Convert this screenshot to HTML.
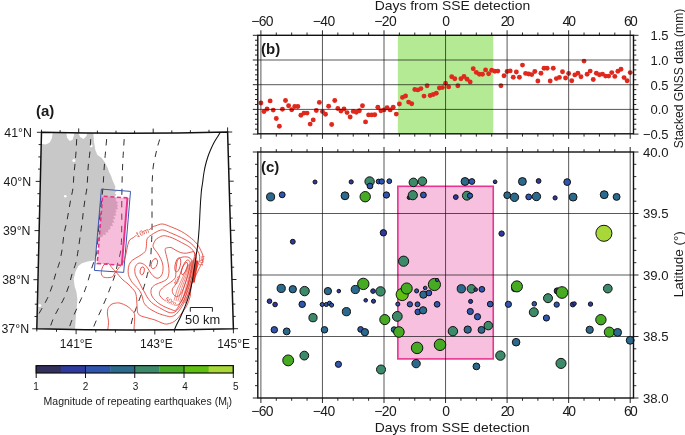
<!DOCTYPE html><html><head><meta charset="utf-8"><style>html,body{margin:0;padding:0;background:#fff;width:685px;height:435px;overflow:hidden}svg{display:block}text{font-family:"Liberation Sans", sans-serif;fill:#1a1a1a}</style></head><body>
<svg width="685" height="435" viewBox="0 0 685 435">
<rect width="685" height="435" fill="#fff"/>
<g opacity="0.999">
<rect x="397.85" y="35.3" width="95.40" height="98.50000000000001" fill="#b5ea95"/>
<circle cx="260.90" cy="103.00" r="2.45" fill="#e0281d"/>
<circle cx="263.98" cy="111.60" r="2.45" fill="#e0281d"/>
<circle cx="267.06" cy="109.00" r="2.45" fill="#e0281d"/>
<circle cx="270.13" cy="100.90" r="2.45" fill="#e0281d"/>
<circle cx="273.21" cy="110.10" r="2.45" fill="#e0281d"/>
<circle cx="276.29" cy="118.50" r="2.45" fill="#e0281d"/>
<circle cx="279.37" cy="126.20" r="2.45" fill="#e0281d"/>
<circle cx="282.44" cy="109.30" r="2.45" fill="#e0281d"/>
<circle cx="285.52" cy="100.50" r="2.45" fill="#e0281d"/>
<circle cx="288.60" cy="105.70" r="2.45" fill="#e0281d"/>
<circle cx="291.68" cy="109.70" r="2.45" fill="#e0281d"/>
<circle cx="294.75" cy="106.50" r="2.45" fill="#e0281d"/>
<circle cx="297.83" cy="106.50" r="2.45" fill="#e0281d"/>
<circle cx="300.91" cy="115.30" r="2.45" fill="#e0281d"/>
<circle cx="303.99" cy="113.10" r="2.45" fill="#e0281d"/>
<circle cx="307.06" cy="113.10" r="2.45" fill="#e0281d"/>
<circle cx="310.14" cy="124.10" r="2.45" fill="#e0281d"/>
<circle cx="313.22" cy="119.90" r="2.45" fill="#e0281d"/>
<circle cx="316.30" cy="110.50" r="2.45" fill="#e0281d"/>
<circle cx="319.37" cy="102.40" r="2.45" fill="#e0281d"/>
<circle cx="322.45" cy="111.60" r="2.45" fill="#e0281d"/>
<circle cx="325.53" cy="114.30" r="2.45" fill="#e0281d"/>
<circle cx="328.61" cy="106.20" r="2.45" fill="#e0281d"/>
<circle cx="331.68" cy="124.50" r="2.45" fill="#e0281d"/>
<circle cx="334.76" cy="100.50" r="2.45" fill="#e0281d"/>
<circle cx="337.84" cy="108.50" r="2.45" fill="#e0281d"/>
<circle cx="340.92" cy="111.10" r="2.45" fill="#e0281d"/>
<circle cx="343.99" cy="109.00" r="2.45" fill="#e0281d"/>
<circle cx="347.07" cy="112.60" r="2.45" fill="#e0281d"/>
<circle cx="350.15" cy="117.00" r="2.45" fill="#e0281d"/>
<circle cx="353.23" cy="111.40" r="2.45" fill="#e0281d"/>
<circle cx="356.30" cy="112.20" r="2.45" fill="#e0281d"/>
<circle cx="359.38" cy="110.70" r="2.45" fill="#e0281d"/>
<circle cx="362.46" cy="105.80" r="2.45" fill="#e0281d"/>
<circle cx="365.54" cy="121.90" r="2.45" fill="#e0281d"/>
<circle cx="368.61" cy="114.90" r="2.45" fill="#e0281d"/>
<circle cx="371.69" cy="114.90" r="2.45" fill="#e0281d"/>
<circle cx="374.77" cy="114.70" r="2.45" fill="#e0281d"/>
<circle cx="377.85" cy="107.20" r="2.45" fill="#e0281d"/>
<circle cx="380.92" cy="110.70" r="2.45" fill="#e0281d"/>
<circle cx="384.00" cy="109.90" r="2.45" fill="#e0281d"/>
<circle cx="387.08" cy="107.80" r="2.45" fill="#e0281d"/>
<circle cx="390.16" cy="109.90" r="2.45" fill="#e0281d"/>
<circle cx="393.23" cy="107.20" r="2.45" fill="#e0281d"/>
<circle cx="396.31" cy="114.10" r="2.45" fill="#e0281d"/>
<circle cx="399.39" cy="104.00" r="2.45" fill="#e0281d"/>
<circle cx="402.47" cy="97.40" r="2.45" fill="#e0281d"/>
<circle cx="405.54" cy="96.00" r="2.45" fill="#e0281d"/>
<circle cx="408.62" cy="102.10" r="2.45" fill="#e0281d"/>
<circle cx="411.70" cy="103.70" r="2.45" fill="#e0281d"/>
<circle cx="414.78" cy="89.50" r="2.45" fill="#e0281d"/>
<circle cx="417.85" cy="89.90" r="2.45" fill="#e0281d"/>
<circle cx="420.93" cy="88.60" r="2.45" fill="#e0281d"/>
<circle cx="424.01" cy="96.10" r="2.45" fill="#e0281d"/>
<circle cx="427.09" cy="85.70" r="2.45" fill="#e0281d"/>
<circle cx="430.16" cy="95.50" r="2.45" fill="#e0281d"/>
<circle cx="433.24" cy="94.50" r="2.45" fill="#e0281d"/>
<circle cx="436.32" cy="93.30" r="2.45" fill="#e0281d"/>
<circle cx="439.40" cy="88.00" r="2.45" fill="#e0281d"/>
<circle cx="442.47" cy="87.60" r="2.45" fill="#e0281d"/>
<circle cx="445.55" cy="83.20" r="2.45" fill="#e0281d"/>
<circle cx="448.63" cy="86.90" r="2.45" fill="#e0281d"/>
<circle cx="451.70" cy="76.80" r="2.45" fill="#e0281d"/>
<circle cx="454.78" cy="78.70" r="2.45" fill="#e0281d"/>
<circle cx="457.86" cy="85.70" r="2.45" fill="#e0281d"/>
<circle cx="460.94" cy="78.80" r="2.45" fill="#e0281d"/>
<circle cx="464.01" cy="76.50" r="2.45" fill="#e0281d"/>
<circle cx="467.09" cy="79.30" r="2.45" fill="#e0281d"/>
<circle cx="470.17" cy="81.90" r="2.45" fill="#e0281d"/>
<circle cx="473.25" cy="68.80" r="2.45" fill="#e0281d"/>
<circle cx="476.32" cy="72.40" r="2.45" fill="#e0281d"/>
<circle cx="479.40" cy="74.20" r="2.45" fill="#e0281d"/>
<circle cx="482.48" cy="74.20" r="2.45" fill="#e0281d"/>
<circle cx="485.56" cy="69.90" r="2.45" fill="#e0281d"/>
<circle cx="488.63" cy="73.80" r="2.45" fill="#e0281d"/>
<circle cx="491.71" cy="70.20" r="2.45" fill="#e0281d"/>
<circle cx="494.79" cy="71.20" r="2.45" fill="#e0281d"/>
<circle cx="497.87" cy="71.10" r="2.45" fill="#e0281d"/>
<circle cx="500.94" cy="85.80" r="2.45" fill="#e0281d"/>
<circle cx="504.02" cy="75.70" r="2.45" fill="#e0281d"/>
<circle cx="507.10" cy="71.50" r="2.45" fill="#e0281d"/>
<circle cx="510.18" cy="70.90" r="2.45" fill="#e0281d"/>
<circle cx="513.25" cy="77.20" r="2.45" fill="#e0281d"/>
<circle cx="516.33" cy="72.00" r="2.45" fill="#e0281d"/>
<circle cx="519.41" cy="77.20" r="2.45" fill="#e0281d"/>
<circle cx="522.49" cy="65.10" r="2.45" fill="#e0281d"/>
<circle cx="525.57" cy="73.40" r="2.45" fill="#e0281d"/>
<circle cx="528.64" cy="74.00" r="2.45" fill="#e0281d"/>
<circle cx="531.72" cy="74.60" r="2.45" fill="#e0281d"/>
<circle cx="534.80" cy="71.50" r="2.45" fill="#e0281d"/>
<circle cx="537.88" cy="81.00" r="2.45" fill="#e0281d"/>
<circle cx="540.95" cy="73.20" r="2.45" fill="#e0281d"/>
<circle cx="544.03" cy="68.20" r="2.45" fill="#e0281d"/>
<circle cx="547.11" cy="68.20" r="2.45" fill="#e0281d"/>
<circle cx="550.19" cy="81.00" r="2.45" fill="#e0281d"/>
<circle cx="553.26" cy="68.20" r="2.45" fill="#e0281d"/>
<circle cx="556.34" cy="78.60" r="2.45" fill="#e0281d"/>
<circle cx="559.42" cy="77.40" r="2.45" fill="#e0281d"/>
<circle cx="562.50" cy="71.80" r="2.45" fill="#e0281d"/>
<circle cx="565.57" cy="78.00" r="2.45" fill="#e0281d"/>
<circle cx="568.65" cy="73.50" r="2.45" fill="#e0281d"/>
<circle cx="571.73" cy="80.70" r="2.45" fill="#e0281d"/>
<circle cx="574.81" cy="74.90" r="2.45" fill="#e0281d"/>
<circle cx="577.88" cy="73.30" r="2.45" fill="#e0281d"/>
<circle cx="580.96" cy="76.70" r="2.45" fill="#e0281d"/>
<circle cx="584.04" cy="61.10" r="2.45" fill="#e0281d"/>
<circle cx="587.12" cy="74.30" r="2.45" fill="#e0281d"/>
<circle cx="590.19" cy="71.10" r="2.45" fill="#e0281d"/>
<circle cx="593.27" cy="79.50" r="2.45" fill="#e0281d"/>
<circle cx="596.35" cy="73.20" r="2.45" fill="#e0281d"/>
<circle cx="599.42" cy="74.70" r="2.45" fill="#e0281d"/>
<circle cx="602.50" cy="74.10" r="2.45" fill="#e0281d"/>
<circle cx="605.58" cy="76.10" r="2.45" fill="#e0281d"/>
<circle cx="608.66" cy="76.10" r="2.45" fill="#e0281d"/>
<circle cx="611.74" cy="72.60" r="2.45" fill="#e0281d"/>
<circle cx="614.81" cy="76.40" r="2.45" fill="#e0281d"/>
<circle cx="617.89" cy="71.20" r="2.45" fill="#e0281d"/>
<circle cx="620.97" cy="69.20" r="2.45" fill="#e0281d"/>
<circle cx="624.05" cy="77.60" r="2.45" fill="#e0281d"/>
<circle cx="627.12" cy="80.70" r="2.45" fill="#e0281d"/>
<circle cx="630.20" cy="72.60" r="2.45" fill="#e0281d"/>
<path d="M260.90 35.3V133.8M322.45 35.3V133.8M384.00 35.3V133.8M445.55 35.3V133.8M507.10 35.3V133.8M568.65 35.3V133.8M630.20 35.3V133.8M257.8 60.00H633.5M257.8 84.70H633.5M257.8 109.40H633.5" stroke="#111" stroke-width="0.7" fill="none"/>
<path d="M260.90 35.3v-5M260.90 133.8v5M276.29 35.3v-2.8M276.29 133.8v2.8M291.68 35.3v-2.8M291.68 133.8v2.8M307.06 35.3v-2.8M307.06 133.8v2.8M322.45 35.3v-5M322.45 133.8v5M337.84 35.3v-2.8M337.84 133.8v2.8M353.23 35.3v-2.8M353.23 133.8v2.8M368.61 35.3v-2.8M368.61 133.8v2.8M384.00 35.3v-5M384.00 133.8v5M399.39 35.3v-2.8M399.39 133.8v2.8M414.78 35.3v-2.8M414.78 133.8v2.8M430.16 35.3v-2.8M430.16 133.8v2.8M445.55 35.3v-5M445.55 133.8v5M460.94 35.3v-2.8M460.94 133.8v2.8M476.32 35.3v-2.8M476.32 133.8v2.8M491.71 35.3v-2.8M491.71 133.8v2.8M507.10 35.3v-5M507.10 133.8v5M522.49 35.3v-2.8M522.49 133.8v2.8M537.88 35.3v-2.8M537.88 133.8v2.8M553.26 35.3v-2.8M553.26 133.8v2.8M568.65 35.3v-5M568.65 133.8v5M584.04 35.3v-2.8M584.04 133.8v2.8M599.42 35.3v-2.8M599.42 133.8v2.8M614.81 35.3v-2.8M614.81 133.8v2.8M630.20 35.3v-5M630.20 133.8v5M257.8 134.10h-5M633.5 134.10h5M257.8 129.16h-2.8M633.5 129.16h2.8M257.8 124.22h-2.8M633.5 124.22h2.8M257.8 119.28h-2.8M633.5 119.28h2.8M257.8 114.34h-2.8M633.5 114.34h2.8M257.8 109.40h-5M633.5 109.40h5M257.8 104.46h-2.8M633.5 104.46h2.8M257.8 99.52h-2.8M633.5 99.52h2.8M257.8 94.58h-2.8M633.5 94.58h2.8M257.8 89.64h-2.8M633.5 89.64h2.8M257.8 84.70h-5M633.5 84.70h5M257.8 79.76h-2.8M633.5 79.76h2.8M257.8 74.82h-2.8M633.5 74.82h2.8M257.8 69.88h-2.8M633.5 69.88h2.8M257.8 64.94h-2.8M633.5 64.94h2.8M257.8 60.00h-5M633.5 60.00h5M257.8 55.06h-2.8M633.5 55.06h2.8M257.8 50.12h-2.8M633.5 50.12h2.8M257.8 45.18h-2.8M633.5 45.18h2.8M257.8 40.24h-2.8M633.5 40.24h2.8M257.8 35.30h-5M633.5 35.30h5" stroke="#111" stroke-width="0.9" fill="none"/>
<rect x="257.8" y="35.3" width="375.70" height="98.50" fill="none" stroke="#111" stroke-width="1.4"/>
<rect x="397.85" y="186.3" width="95.40" height="172.60" fill="#f6c0de" stroke="#e8358f" stroke-width="1.6"/>
<path d="M260.90 152.0V398.0M322.45 152.0V398.0M384.00 152.0V398.0M445.55 152.0V398.0M507.10 152.0V398.0M568.65 152.0V398.0M630.20 152.0V398.0M257.8 213.50H633.5M257.8 275.00H633.5M257.8 336.50H633.5" stroke="#111" stroke-width="0.7" fill="none"/>
<circle cx="270.6" cy="196.9" r="4.05" fill="#2b6a8c" stroke="#111" stroke-width="1.0"/>
<circle cx="282.2" cy="194.8" r="2.95" fill="#2f55ae" stroke="#111" stroke-width="1.0"/>
<circle cx="315" cy="182" r="2.00" fill="#2e3aa0" stroke="#111" stroke-width="1.0"/>
<circle cx="351.2" cy="181.9" r="2.10" fill="#2e3aa0" stroke="#111" stroke-width="1.0"/>
<circle cx="369.6" cy="181.5" r="4.70" fill="#3c8a6a" stroke="#111" stroke-width="1.0"/>
<circle cx="370" cy="186" r="2.90" fill="#2f55ae" stroke="#111" stroke-width="1.0"/>
<circle cx="378.6" cy="181.5" r="2.40" fill="#2f55ae" stroke="#111" stroke-width="1.0"/>
<circle cx="381.7" cy="181.5" r="2.65" fill="#2f55ae" stroke="#111" stroke-width="1.0"/>
<circle cx="389.3" cy="181.2" r="2.40" fill="#2f55ae" stroke="#111" stroke-width="1.0"/>
<circle cx="345" cy="195.8" r="3.95" fill="#2b6a8c" stroke="#111" stroke-width="1.0"/>
<circle cx="365.2" cy="196.7" r="5.20" fill="#46aa22" stroke="#111" stroke-width="1.0"/>
<circle cx="386.4" cy="195" r="3.15" fill="#2f55ae" stroke="#111" stroke-width="1.0"/>
<circle cx="413.4" cy="182.4" r="4.30" fill="#3c8a6a" stroke="#111" stroke-width="1.0"/>
<circle cx="422.4" cy="181.2" r="4.30" fill="#3c8a6a" stroke="#111" stroke-width="1.0"/>
<circle cx="409" cy="197.6" r="1.85" fill="#33305e" stroke="#111" stroke-width="1.0"/>
<circle cx="412.8" cy="195.2" r="4.60" fill="#3c8a6a" stroke="#111" stroke-width="1.0"/>
<circle cx="423.4" cy="195" r="2.90" fill="#2f55ae" stroke="#111" stroke-width="1.0"/>
<circle cx="455.8" cy="197.1" r="2.40" fill="#2e3aa0" stroke="#111" stroke-width="1.0"/>
<circle cx="465" cy="181.5" r="3.95" fill="#2b6a8c" stroke="#111" stroke-width="1.0"/>
<circle cx="471.9" cy="181.5" r="2.90" fill="#2f55ae" stroke="#111" stroke-width="1.0"/>
<circle cx="495.1" cy="181.8" r="1.85" fill="#2e3aa0" stroke="#111" stroke-width="1.0"/>
<circle cx="522.4" cy="181.5" r="3.95" fill="#2b6a8c" stroke="#111" stroke-width="1.0"/>
<circle cx="466.9" cy="195.7" r="4.45" fill="#3c8a6a" stroke="#111" stroke-width="1.0"/>
<circle cx="470" cy="195.7" r="2.65" fill="#2f55ae" stroke="#111" stroke-width="1.0"/>
<circle cx="507.2" cy="195.2" r="3.40" fill="#2b6a8c" stroke="#111" stroke-width="1.0"/>
<circle cx="514.5" cy="197.3" r="4.20" fill="#2b6a8c" stroke="#111" stroke-width="1.0"/>
<circle cx="538.6" cy="181" r="2.40" fill="#2e3aa0" stroke="#111" stroke-width="1.0"/>
<circle cx="567.2" cy="182.1" r="3.40" fill="#2f55ae" stroke="#111" stroke-width="1.0"/>
<circle cx="528.7" cy="196.9" r="2.90" fill="#2f55ae" stroke="#111" stroke-width="1.0"/>
<circle cx="536.4" cy="196.5" r="4.20" fill="#2b6a8c" stroke="#111" stroke-width="1.0"/>
<circle cx="555.1" cy="197.9" r="2.10" fill="#2e3aa0" stroke="#111" stroke-width="1.0"/>
<circle cx="573.1" cy="197.1" r="3.95" fill="#2b6a8c" stroke="#111" stroke-width="1.0"/>
<circle cx="604.2" cy="194.7" r="3.95" fill="#2b6a8c" stroke="#111" stroke-width="1.0"/>
<circle cx="616.6" cy="196.9" r="3.45" fill="#2b6a8c" stroke="#111" stroke-width="1.0"/>
<circle cx="603.9" cy="233.3" r="8.05" fill="#a8d838" stroke="#111" stroke-width="1.0"/>
<circle cx="292.8" cy="241.7" r="2.45" fill="#2e3aa0" stroke="#111" stroke-width="1.0"/>
<circle cx="383.4" cy="232.8" r="3.20" fill="#2e3aa0" stroke="#111" stroke-width="1.0"/>
<circle cx="403.6" cy="261.2" r="5.10" fill="#3c8a6a" stroke="#111" stroke-width="1.0"/>
<circle cx="501.6" cy="233.6" r="2.70" fill="#2e3aa0" stroke="#111" stroke-width="1.0"/>
<circle cx="281.2" cy="288.4" r="4.10" fill="#2b6a8c" stroke="#111" stroke-width="1.0"/>
<circle cx="292.8" cy="289.2" r="3.65" fill="#2b6a8c" stroke="#111" stroke-width="1.0"/>
<circle cx="304.6" cy="291.1" r="4.70" fill="#3c8a6a" stroke="#111" stroke-width="1.0"/>
<circle cx="269.5" cy="301.2" r="2.30" fill="#2e3aa0" stroke="#111" stroke-width="1.0"/>
<circle cx="275.1" cy="304.5" r="2.30" fill="#2e3aa0" stroke="#111" stroke-width="1.0"/>
<circle cx="302.2" cy="304.3" r="3.25" fill="#2f55ae" stroke="#111" stroke-width="1.0"/>
<circle cx="313" cy="317.7" r="4.10" fill="#3c8a6a" stroke="#111" stroke-width="1.0"/>
<circle cx="274.3" cy="329.8" r="3.25" fill="#2f55ae" stroke="#111" stroke-width="1.0"/>
<circle cx="286.7" cy="331.4" r="3.45" fill="#2b6a8c" stroke="#111" stroke-width="1.0"/>
<circle cx="327.9" cy="291.1" r="3.65" fill="#2b6a8c" stroke="#111" stroke-width="1.0"/>
<circle cx="338.8" cy="291.1" r="1.80" fill="#2e3aa0" stroke="#111" stroke-width="1.0"/>
<circle cx="355.3" cy="289.5" r="4.10" fill="#2b6a8c" stroke="#111" stroke-width="1.0"/>
<circle cx="363.3" cy="283.9" r="5.70" fill="#46aa22" stroke="#111" stroke-width="1.0"/>
<circle cx="373" cy="291.1" r="2.30" fill="#2e3aa0" stroke="#111" stroke-width="1.0"/>
<circle cx="380.5" cy="291.4" r="4.70" fill="#3c8a6a" stroke="#111" stroke-width="1.0"/>
<circle cx="322.2" cy="304.5" r="2.05" fill="#2f55ae" stroke="#111" stroke-width="1.0"/>
<circle cx="326.3" cy="304.5" r="2.05" fill="#2f55ae" stroke="#111" stroke-width="1.0"/>
<circle cx="329.5" cy="303.2" r="2.05" fill="#2f55ae" stroke="#111" stroke-width="1.0"/>
<circle cx="331.6" cy="305.1" r="2.05" fill="#2f55ae" stroke="#111" stroke-width="1.0"/>
<circle cx="365.7" cy="300.3" r="1.80" fill="#2e3aa0" stroke="#111" stroke-width="1.0"/>
<circle cx="373.5" cy="301.2" r="2.05" fill="#2e3aa0" stroke="#111" stroke-width="1.0"/>
<circle cx="346.4" cy="311.7" r="4.10" fill="#2b6a8c" stroke="#111" stroke-width="1.0"/>
<circle cx="324.5" cy="329.8" r="3.25" fill="#2b6a8c" stroke="#111" stroke-width="1.0"/>
<circle cx="360.6" cy="329.4" r="2.85" fill="#2f55ae" stroke="#111" stroke-width="1.0"/>
<circle cx="364.9" cy="332.2" r="3.65" fill="#2b6a8c" stroke="#111" stroke-width="1.0"/>
<circle cx="402.2" cy="294.5" r="6.10" fill="#60c010" stroke="#111" stroke-width="1.0"/>
<circle cx="406.7" cy="288.5" r="5.55" fill="#46aa22" stroke="#111" stroke-width="1.0"/>
<circle cx="416.6" cy="290.9" r="2.05" fill="#2f55ae" stroke="#111" stroke-width="1.0"/>
<circle cx="425.2" cy="288" r="1.80" fill="#2f55ae" stroke="#111" stroke-width="1.0"/>
<circle cx="423.4" cy="294.6" r="3.65" fill="#2b6a8c" stroke="#111" stroke-width="1.0"/>
<circle cx="428.9" cy="293" r="2.85" fill="#2f55ae" stroke="#111" stroke-width="1.0"/>
<circle cx="434.4" cy="284.5" r="6.10" fill="#46aa22" stroke="#111" stroke-width="1.0"/>
<circle cx="437.1" cy="280" r="1.65" fill="#2f55ae" stroke="#111" stroke-width="1.0"/>
<circle cx="397.8" cy="304.1" r="2.05" fill="#2f55ae" stroke="#111" stroke-width="1.0"/>
<circle cx="409.9" cy="304.3" r="2.65" fill="#2f55ae" stroke="#111" stroke-width="1.0"/>
<circle cx="417.5" cy="304.3" r="2.45" fill="#2f55ae" stroke="#111" stroke-width="1.0"/>
<circle cx="437.1" cy="304.3" r="2.85" fill="#2f55ae" stroke="#111" stroke-width="1.0"/>
<circle cx="417.8" cy="311.9" r="2.85" fill="#2f55ae" stroke="#111" stroke-width="1.0"/>
<circle cx="423.1" cy="310.3" r="3.65" fill="#2b6a8c" stroke="#111" stroke-width="1.0"/>
<circle cx="384.8" cy="319.6" r="5.05" fill="#46aa22" stroke="#111" stroke-width="1.0"/>
<circle cx="397.3" cy="316.4" r="4.90" fill="#3c8a6a" stroke="#111" stroke-width="1.0"/>
<circle cx="394.1" cy="329.6" r="2.85" fill="#2b6a8c" stroke="#111" stroke-width="1.0"/>
<circle cx="398.9" cy="332" r="5.30" fill="#46aa22" stroke="#111" stroke-width="1.0"/>
<circle cx="461.3" cy="288.8" r="4.10" fill="#2b6a8c" stroke="#111" stroke-width="1.0"/>
<circle cx="471.4" cy="288.8" r="4.25" fill="#3c8a6a" stroke="#111" stroke-width="1.0"/>
<circle cx="475.7" cy="289.6" r="1.80" fill="#2e3aa0" stroke="#111" stroke-width="1.0"/>
<circle cx="481.9" cy="289.3" r="2.85" fill="#2f55ae" stroke="#111" stroke-width="1.0"/>
<circle cx="470.6" cy="301.4" r="2.05" fill="#2e3aa0" stroke="#111" stroke-width="1.0"/>
<circle cx="490.2" cy="304.1" r="2.85" fill="#2f55ae" stroke="#111" stroke-width="1.0"/>
<circle cx="470.3" cy="311.5" r="3.10" fill="#2f55ae" stroke="#111" stroke-width="1.0"/>
<circle cx="477.5" cy="316.7" r="3.10" fill="#2f55ae" stroke="#111" stroke-width="1.0"/>
<circle cx="452.9" cy="331.2" r="4.70" fill="#3c8a6a" stroke="#111" stroke-width="1.0"/>
<circle cx="467.7" cy="329.6" r="3.65" fill="#2b6a8c" stroke="#111" stroke-width="1.0"/>
<circle cx="481.5" cy="329.9" r="3.45" fill="#2b6a8c" stroke="#111" stroke-width="1.0"/>
<circle cx="488.3" cy="325.6" r="4.25" fill="#3c8a6a" stroke="#111" stroke-width="1.0"/>
<circle cx="514.6" cy="288.6" r="3.05" fill="#33305e" stroke="#111" stroke-width="1.0"/>
<circle cx="516.9" cy="286.4" r="5.55" fill="#46aa22" stroke="#111" stroke-width="1.0"/>
<circle cx="557.2" cy="290.9" r="3.05" fill="#33305e" stroke="#111" stroke-width="1.0"/>
<circle cx="562" cy="292.5" r="5.85" fill="#46aa22" stroke="#111" stroke-width="1.0"/>
<circle cx="548" cy="298.2" r="4.50" fill="#3c8a6a" stroke="#111" stroke-width="1.0"/>
<circle cx="508.4" cy="304.3" r="3.10" fill="#2f55ae" stroke="#111" stroke-width="1.0"/>
<circle cx="534.3" cy="303.8" r="2.30" fill="#2f55ae" stroke="#111" stroke-width="1.0"/>
<circle cx="556.7" cy="304.6" r="2.65" fill="#2f55ae" stroke="#111" stroke-width="1.0"/>
<circle cx="533.8" cy="312.2" r="4.50" fill="#3c8a6a" stroke="#111" stroke-width="1.0"/>
<circle cx="546.4" cy="318" r="3.10" fill="#2f55ae" stroke="#111" stroke-width="1.0"/>
<circle cx="607.8" cy="288.6" r="4.35" fill="#3c8a6a" stroke="#111" stroke-width="1.0"/>
<circle cx="572.8" cy="304.5" r="2.45" fill="#2e3aa0" stroke="#111" stroke-width="1.0"/>
<circle cx="574.5" cy="303.6" r="1.80" fill="#2e3aa0" stroke="#111" stroke-width="1.0"/>
<circle cx="590.5" cy="304.1" r="2.20" fill="#2e3aa0" stroke="#111" stroke-width="1.0"/>
<circle cx="600.9" cy="319.7" r="5.20" fill="#46aa22" stroke="#111" stroke-width="1.0"/>
<circle cx="589.7" cy="329.8" r="3.65" fill="#2b6a8c" stroke="#111" stroke-width="1.0"/>
<circle cx="609.3" cy="332.1" r="5.05" fill="#46aa22" stroke="#111" stroke-width="1.0"/>
<circle cx="617.6" cy="332.4" r="3.95" fill="#2b6a8c" stroke="#111" stroke-width="1.0"/>
<circle cx="630.2" cy="340.3" r="3.95" fill="#2b6a8c" stroke="#111" stroke-width="1.0"/>
<circle cx="288.2" cy="360.4" r="5.45" fill="#46aa22" stroke="#111" stroke-width="1.0"/>
<circle cx="304.3" cy="355.6" r="4.40" fill="#3c8a6a" stroke="#111" stroke-width="1.0"/>
<circle cx="338.4" cy="364.3" r="3.10" fill="#2f55ae" stroke="#111" stroke-width="1.0"/>
<circle cx="381" cy="369.5" r="4.50" fill="#3c8a6a" stroke="#111" stroke-width="1.0"/>
<circle cx="417.1" cy="347.9" r="5.75" fill="#46aa22" stroke="#111" stroke-width="1.0"/>
<circle cx="440" cy="344.8" r="5.75" fill="#46aa22" stroke="#111" stroke-width="1.0"/>
<circle cx="416.1" cy="363.6" r="4.20" fill="#2b6a8c" stroke="#111" stroke-width="1.0"/>
<circle cx="476.4" cy="366.4" r="3.40" fill="#2b6a8c" stroke="#111" stroke-width="1.0"/>
<circle cx="500.4" cy="355.6" r="4.70" fill="#3c8a6a" stroke="#111" stroke-width="1.0"/>
<circle cx="516.1" cy="342.2" r="3.80" fill="#2b6a8c" stroke="#111" stroke-width="1.0"/>
<circle cx="561" cy="363.4" r="5.05" fill="#3c8a6a" stroke="#111" stroke-width="1.0"/>
<path d="M260.90 152.0v-5M260.90 398.0v5M276.29 152.0v-2.8M276.29 398.0v2.8M291.68 152.0v-2.8M291.68 398.0v2.8M307.06 152.0v-2.8M307.06 398.0v2.8M322.45 152.0v-5M322.45 398.0v5M337.84 152.0v-2.8M337.84 398.0v2.8M353.23 152.0v-2.8M353.23 398.0v2.8M368.61 152.0v-2.8M368.61 398.0v2.8M384.00 152.0v-5M384.00 398.0v5M399.39 152.0v-2.8M399.39 398.0v2.8M414.78 152.0v-2.8M414.78 398.0v2.8M430.16 152.0v-2.8M430.16 398.0v2.8M445.55 152.0v-5M445.55 398.0v5M460.94 152.0v-2.8M460.94 398.0v2.8M476.32 152.0v-2.8M476.32 398.0v2.8M491.71 152.0v-2.8M491.71 398.0v2.8M507.10 152.0v-5M507.10 398.0v5M522.49 152.0v-2.8M522.49 398.0v2.8M537.88 152.0v-2.8M537.88 398.0v2.8M553.26 152.0v-2.8M553.26 398.0v2.8M568.65 152.0v-5M568.65 398.0v5M584.04 152.0v-2.8M584.04 398.0v2.8M599.42 152.0v-2.8M599.42 398.0v2.8M614.81 152.0v-2.8M614.81 398.0v2.8M630.20 152.0v-5M630.20 398.0v5M257.8 398.00h-5M633.5 398.00h5M257.8 385.70h-2.8M633.5 385.70h2.8M257.8 373.40h-2.8M633.5 373.40h2.8M257.8 361.10h-2.8M633.5 361.10h2.8M257.8 348.80h-2.8M633.5 348.80h2.8M257.8 336.50h-5M633.5 336.50h5M257.8 324.20h-2.8M633.5 324.20h2.8M257.8 311.90h-2.8M633.5 311.90h2.8M257.8 299.60h-2.8M633.5 299.60h2.8M257.8 287.30h-2.8M633.5 287.30h2.8M257.8 275.00h-5M633.5 275.00h5M257.8 262.70h-2.8M633.5 262.70h2.8M257.8 250.40h-2.8M633.5 250.40h2.8M257.8 238.10h-2.8M633.5 238.10h2.8M257.8 225.80h-2.8M633.5 225.80h2.8M257.8 213.50h-5M633.5 213.50h5M257.8 201.20h-2.8M633.5 201.20h2.8M257.8 188.90h-2.8M633.5 188.90h2.8M257.8 176.60h-2.8M633.5 176.60h2.8M257.8 164.30h-2.8M633.5 164.30h2.8M257.8 152.00h-5M633.5 152.00h5" stroke="#111" stroke-width="0.9" fill="none"/>
<rect x="257.8" y="152.0" width="375.70" height="246.00" fill="none" stroke="#111" stroke-width="1.4"/>
<text x="262.10" y="26.3" font-size="13.9" letter-spacing="-0.6" text-anchor="middle">−60</text>
<text x="262.10" y="415.8" font-size="13.9" letter-spacing="-0.6" text-anchor="middle">−60</text>
<text x="323.65" y="26.3" font-size="13.9" letter-spacing="-0.6" text-anchor="middle">−40</text>
<text x="323.65" y="415.8" font-size="13.9" letter-spacing="-0.6" text-anchor="middle">−40</text>
<text x="385.20" y="26.3" font-size="13.9" letter-spacing="-0.6" text-anchor="middle">−20</text>
<text x="385.20" y="415.8" font-size="13.9" letter-spacing="-0.6" text-anchor="middle">−20</text>
<text x="446.00" y="26.3" font-size="13.9" letter-spacing="0" text-anchor="middle">0</text>
<text x="446.00" y="415.8" font-size="13.9" letter-spacing="0" text-anchor="middle">0</text>
<text x="506.80" y="26.3" font-size="13.9" letter-spacing="-1.8" text-anchor="middle">20</text>
<text x="506.80" y="415.8" font-size="13.9" letter-spacing="-1.8" text-anchor="middle">20</text>
<text x="568.35" y="26.3" font-size="13.9" letter-spacing="-1.8" text-anchor="middle">40</text>
<text x="568.35" y="415.8" font-size="13.9" letter-spacing="-1.8" text-anchor="middle">40</text>
<text x="629.90" y="26.3" font-size="13.9" letter-spacing="-1.8" text-anchor="middle">60</text>
<text x="629.90" y="415.8" font-size="13.9" letter-spacing="-1.8" text-anchor="middle">60</text>
<text x="452.4" y="10.2" font-size="13.5" text-anchor="middle" textLength="155.5" lengthAdjust="spacingAndGlyphs">Days from SSE detection</text>
<text x="452.2" y="432.3" font-size="13.5" text-anchor="middle" textLength="155" lengthAdjust="spacingAndGlyphs">Days from SSE detection</text>
<text x="668.6" y="40.10" font-size="13" text-anchor="end">1.5</text>
<text x="668.6" y="64.80" font-size="13" text-anchor="end">1.0</text>
<text x="668.6" y="89.50" font-size="13" text-anchor="end">0.5</text>
<text x="668.6" y="114.20" font-size="13" text-anchor="end">0.0</text>
<text x="668.6" y="138.90" font-size="13" text-anchor="end">−0.5</text>
<text x="668.5" y="156.80" font-size="13.4" text-anchor="end" textLength="25.6" lengthAdjust="spacingAndGlyphs">40.0</text>
<text x="668.5" y="218.30" font-size="13.4" text-anchor="end" textLength="25.6" lengthAdjust="spacingAndGlyphs">39.5</text>
<text x="668.5" y="279.80" font-size="13.4" text-anchor="end" textLength="25.6" lengthAdjust="spacingAndGlyphs">39.0</text>
<text x="668.5" y="341.30" font-size="13.4" text-anchor="end" textLength="25.6" lengthAdjust="spacingAndGlyphs">38.5</text>
<text x="668.5" y="402.80" font-size="13.4" text-anchor="end" textLength="25.6" lengthAdjust="spacingAndGlyphs">38.0</text>
<text transform="translate(682.6,78.5) rotate(-90)" font-size="12.3" text-anchor="middle" textLength="139.5" lengthAdjust="spacingAndGlyphs">Stacked GNSS data (mm)</text>
<text transform="translate(682.6,264.2) rotate(-90)" font-size="12.3" text-anchor="middle" textLength="66" lengthAdjust="spacingAndGlyphs">Latitude (°)</text>
<text x="261" y="53.6" font-size="15" font-weight="bold">(b)</text>
<text x="261" y="171.8" font-size="15" font-weight="bold">(c)</text>
<text x="36" y="115.5" font-size="15" font-weight="bold">(a)</text>
<defs><clipPath id="mapclip"><path d="M41.5 132.3Q134.6 134.4 227.6 132.0L233.4 328.7Q135.1 331.2 36.8 328.8Z"/></clipPath></defs>
<g clip-path="url(#mapclip)">
<path d="M36.8 329.5 L41.2 144.0 L42.6 143.9 L45.7 144.6 L49.8 142.5 L51.9 138.3 L52.8 132.0 L66.3 132.0 L67.0 137.7 L69.8 141.1 L72.6 139.7 L73.9 135.6 L74.6 132.0 L78.1 132.0 L80.1 137.0 L83.6 139.0 L86.3 136.3 L87.7 132.0 L93.2 132.0 L94.0 141.8 L95.3 150.0 L97.4 154.9 L101.5 157.7 L105.0 162.5 L107.7 168.0 L109.1 172.1 L111.2 176.3 L112.6 180.4 L113.9 183.3 L115.6 187.2 L114.2 189.4 L116.7 191.2 L114.6 193.0 L116.5 194.8 L114.3 196.9 L116.6 198.0 L115.6 200.3 L118.1 202.7 L116.4 204.2 L118.3 205.7 L116.9 207.0 L118.2 209.0 L115.1 209.7 L116.9 211.8 L115.0 213.1 L116.7 215.2 L113.4 216.0 L115.5 218.8 L112.7 219.6 L114.6 222.3 L111.7 223.2 L113.2 225.7 L110.2 226.3 L110.5 229.1 L108.0 230.1 L108.4 232.5 L105.4 232.2 L106.1 235.0 L103.2 234.6 L102.4 236.9 L100.5 237.0 L98.5 241.0 L96.8 246.0 L95.8 252.6 L95.0 260.3 L87.5 261.4 L82.0 263.3 L78.3 266.0 L75.5 271.5 L73.7 278.9 L74.6 286.3 L76.4 291.8 L77.4 299.1 L76.8 306.5 L76.1 313.8 L75.5 321.2 L75.0 331.0Z" fill="#c8c8c8"/>
<circle cx="73.9" cy="160.4" r="1.5" fill="#fff"/>
<circle cx="91.2" cy="145.9" r="1.4" fill="#fff"/>
<circle cx="65.3" cy="196.2" r="1.3" fill="#fff"/>
<circle cx="39.7" cy="305.5" r="1.6" fill="#fff"/>
<path d="M77.2 130.0C77.0 133.7 76.3 146.3 76.0 152.0C75.6 157.7 75.3 160.0 75.0 164.0C74.6 168.0 74.1 172.0 73.8 176.0C73.4 180.0 73.5 184.3 73.0 188.0C72.6 191.7 71.7 194.3 71.0 198.0C70.2 201.7 69.6 206.0 68.9 210.0C68.1 214.0 67.5 218.0 66.7 222.0C65.9 226.0 64.8 229.3 64.0 234.0C63.3 238.7 62.7 245.3 62.0 250.0C61.2 254.7 60.5 258.5 59.5 262.4C58.4 266.3 57.0 269.4 55.8 273.4C54.5 277.4 53.4 282.2 52.1 286.3C50.7 290.4 49.1 294.5 47.5 298.2C45.8 301.9 43.8 305.0 42.0 308.3C40.1 311.6 37.4 316.4 36.5 318.0" fill="none" stroke="#1a1a1a" stroke-width="0.9" stroke-dasharray="6.3 6.1" stroke-dashoffset="-9.2"/>
<path d="M91.2 130.0C91.0 133.7 90.3 146.3 89.9 152.0C89.4 157.7 88.7 160.0 88.4 164.0C88.0 168.0 87.9 172.0 87.7 176.0C87.4 180.0 87.3 184.3 86.9 188.0C86.5 191.7 85.8 194.3 85.2 198.0C84.7 201.7 84.1 206.0 83.5 210.0C83.0 214.0 82.7 218.0 82.2 222.0C81.6 226.0 81.1 229.3 80.5 234.0C79.8 238.7 78.9 245.3 78.2 250.0C77.4 254.7 76.9 258.5 76.0 262.4C75.0 266.3 73.5 269.4 72.2 273.4C71.0 277.4 70.0 282.2 68.7 286.3C67.3 290.4 65.7 294.5 64.0 298.2C62.4 301.9 60.4 304.8 58.6 308.3C56.7 311.8 54.6 315.5 53.0 319.3C51.4 323.1 49.6 329.1 49.0 331.0" fill="none" stroke="#1a1a1a" stroke-width="0.9" stroke-dasharray="6.3 6.1" stroke-dashoffset="-9.2"/>
<path d="M107.5 130.0C107.1 133.7 106.0 146.3 105.5 152.0C105.0 157.7 104.8 160.0 104.5 164.0C104.1 168.0 103.9 172.0 103.7 176.0C103.4 180.0 103.3 184.0 103.0 188.0C102.6 192.0 102.0 195.5 101.5 200.0C101.0 204.5 100.5 210.0 100.0 215.0C99.5 220.0 99.0 223.8 98.5 230.0C97.9 236.2 97.9 245.5 96.8 252.0C95.6 258.5 93.3 262.9 91.5 268.8C89.8 274.7 87.7 282.3 86.0 287.2C84.4 292.1 83.0 294.7 81.5 298.2C79.9 301.7 78.4 304.8 76.9 308.3C75.3 311.8 73.7 315.5 72.2 319.3C70.8 323.1 68.7 329.1 68.0 331.0" fill="none" stroke="#1a1a1a" stroke-width="0.9" stroke-dasharray="6.3 6.1" stroke-dashoffset="-9.2"/>
<path d="M124.8 130.0C124.5 133.7 123.7 146.3 123.4 152.0C123.0 157.7 122.8 160.0 122.7 164.0C122.5 168.0 122.4 172.0 122.2 176.0C122.1 180.0 122.0 184.0 122.0 188.0C121.9 192.0 121.8 194.7 121.8 200.0C121.7 205.3 121.8 213.3 121.8 220.0C121.7 226.7 121.7 234.7 121.5 240.0C121.2 245.3 121.2 248.0 120.5 252.0C119.9 256.0 118.4 260.1 117.5 264.0C116.5 267.9 115.9 271.9 114.8 275.7C113.6 279.5 112.2 282.8 110.7 286.7C109.2 290.6 107.4 295.2 105.8 299.1C104.1 303.0 102.5 306.7 101.0 310.2C99.4 313.7 98.0 316.5 96.5 320.0C95.0 323.5 92.7 329.2 92.0 331.0" fill="none" stroke="#1a1a1a" stroke-width="0.9" stroke-dasharray="6.3 6.1" stroke-dashoffset="-9.2"/>
<path d="M161.5 134.0C160.9 135.8 158.9 141.7 158.0 145.0C157.1 148.3 156.6 150.5 155.8 154.0C155.0 157.5 153.9 162.0 153.3 166.0C152.7 170.0 152.6 174.5 152.4 178.0C152.2 181.5 152.2 183.3 152.1 187.0C152.0 190.7 152.0 195.3 152.0 200.0C152.0 204.7 152.0 210.0 152.0 215.0C152.0 220.0 152.1 225.7 152.0 230.0C151.9 234.3 151.9 235.4 151.6 241.0C151.3 246.6 150.9 257.8 150.2 263.3C149.5 268.9 148.4 270.4 147.4 274.3C146.4 278.2 145.2 283.0 144.0 286.7C142.8 290.4 141.8 292.9 140.5 296.4C139.2 299.8 137.7 304.0 136.4 307.4C135.2 310.8 134.2 313.1 133.0 317.0C131.8 320.9 130.1 328.7 129.5 331.0" fill="none" stroke="#1a1a1a" stroke-width="0.9" stroke-dasharray="6.3 5.85" stroke-dashoffset="-5.7"/>
<path d="M102.6 196.2 L127.5 197.9 L121.8 265.4 L97.2 263.5Z" fill="#e8559f" fill-opacity="0.38"/>
<path d="M127.5 197.9L102.6 196.2L97.2 263.5L121.8 265.4" fill="none" stroke="#e8308c" stroke-width="1.6" stroke-dasharray="4 2.6"/>
<path d="M127.5 197.9L121.8 265.4" fill="none" stroke="#e8308c" stroke-width="2"/>
<path d="M101.4 189.1 L130.5 191.4 L123.7 272.4 L94.4 270.4Z" fill="none" stroke="#3a55b0" stroke-width="1"/>
<path d="M103.7 265.1C102.5 266.6 101.3 270.4 101.3 272.4C101.3 274.4 102.0 276.4 103.7 277.2C105.4 278.0 110.0 277.7 111.7 277.2C113.5 276.7 113.4 275.1 114.2 274.0C115.0 272.9 115.8 271.9 116.6 270.8C117.4 269.7 118.1 268.6 119.0 267.5C119.9 266.4 121.2 265.9 122.2 264.3C123.2 262.7 124.2 260.2 124.9 257.9C125.7 255.6 126.2 252.5 126.7 250.3C127.2 248.1 127.4 246.3 127.9 244.6C128.4 242.9 128.8 241.1 129.6 240.0C130.4 238.9 131.9 238.6 133.0 237.8C134.1 237.1 134.5 236.4 136.0 235.5C137.5 234.6 139.8 233.4 142.0 232.5C144.2 231.6 147.3 230.7 149.1 229.8C150.8 228.9 151.3 227.6 152.5 226.9C153.7 226.2 154.3 226.2 156.0 225.7C157.7 225.2 160.0 223.8 162.4 224.0C164.8 224.2 167.5 225.4 170.7 226.7C173.9 228.0 178.2 229.6 181.7 231.6C185.1 233.6 188.8 236.2 191.4 238.4C194.1 240.6 196.0 242.6 197.6 244.7C199.2 246.8 200.1 249.0 201.0 250.9C201.9 252.8 202.9 254.6 203.1 256.4C203.3 258.2 203.0 260.1 202.4 261.9C201.8 263.7 200.8 265.0 199.7 267.4C198.5 269.8 196.9 273.1 195.5 276.0C194.1 278.9 192.2 281.6 191.3 285.0C190.4 288.4 190.9 293.2 190.1 296.7C189.3 300.2 188.0 303.3 186.6 306.0C185.2 308.7 183.5 310.9 181.9 313.0C180.3 315.1 178.8 317.3 177.2 318.9C175.6 320.5 174.3 321.5 172.6 322.4C170.8 323.3 168.5 324.0 166.7 324.1C164.9 324.2 163.9 323.7 162.0 323.0C160.1 322.3 157.5 320.9 155.0 320.0C152.5 319.1 149.4 318.5 146.9 317.7C144.4 316.9 141.5 316.4 139.9 315.4C138.3 314.4 138.0 313.8 137.5 311.9C137.0 309.9 137.1 306.2 136.9 303.7C136.7 301.2 136.7 298.6 136.4 296.7C136.1 294.8 135.9 293.4 135.2 292.0C134.5 290.6 133.5 289.8 132.3 288.5C131.1 287.2 129.7 285.4 128.1 284.0C126.5 282.6 124.5 281.4 123.0 280.0C121.5 278.6 120.2 277.0 119.0 275.6C117.8 274.2 117.0 273.0 115.8 271.6C114.6 270.2 112.9 268.9 111.7 267.5C110.5 266.1 109.8 263.9 108.5 263.5C107.2 263.1 104.9 263.6 103.7 265.1Z" fill="none" stroke="#e43c32" stroke-width="0.85"/>
<path d="M151.4 234.9C152.7 234.1 154.2 232.9 156.0 232.1C157.8 231.3 160.0 229.8 162.4 229.9C164.8 230.0 167.5 231.6 170.7 232.9C173.9 234.2 178.5 236.2 181.7 237.8C184.9 239.4 187.7 240.9 190.0 242.6C192.3 244.3 194.0 246.3 195.5 248.1C197.0 249.9 198.3 251.8 199.0 253.6C199.7 255.4 199.9 257.0 199.7 259.1C199.5 261.2 198.5 263.2 197.6 266.0C196.7 268.8 195.3 272.2 194.0 276.0C192.7 279.8 191.3 285.2 190.0 289.0C188.7 292.8 187.6 295.8 186.0 299.0C184.4 302.2 182.3 305.9 180.7 308.4C179.0 310.9 177.6 312.8 176.1 314.2C174.6 315.6 173.0 316.2 171.4 316.5C169.8 316.8 169.0 316.6 166.7 316.0C164.4 315.4 160.3 314.3 157.4 313.0C154.5 311.7 151.3 309.9 149.2 308.4C147.0 306.8 145.6 305.3 144.5 303.7C143.4 302.1 143.4 300.8 142.8 299.0C142.2 297.2 141.9 294.8 141.0 293.0C140.1 291.2 138.7 289.4 137.6 288.0C136.5 286.6 135.3 286.1 134.2 284.8C133.0 283.5 131.7 281.9 130.7 280.2C129.7 278.5 128.8 276.6 128.4 274.5C128.0 272.4 128.0 269.7 128.4 267.6C128.8 265.5 129.5 263.3 130.7 261.8C131.8 260.3 133.6 259.5 135.3 258.4C137.0 257.2 139.5 256.1 141.1 254.9C142.7 253.8 144.2 252.8 145.1 251.5C146.0 250.2 146.0 248.8 146.3 246.9C146.6 245.0 146.4 241.7 146.8 240.0C147.2 238.3 147.7 237.8 148.5 237.0C149.3 236.2 150.2 235.7 151.4 234.9Z" fill="none" stroke="#e43c32" stroke-width="0.85"/>
<path d="M153.2 244.6C153.5 243.3 154.7 241.1 155.5 240.0C156.3 238.9 156.9 238.5 158.3 237.8C159.7 237.1 161.5 235.7 163.8 235.7C166.1 235.7 169.1 236.7 172.1 237.8C175.1 239.0 178.7 241.0 181.7 242.6C184.7 244.2 187.9 245.8 190.0 247.4C192.1 249.0 193.1 250.5 194.1 252.2C195.1 253.9 196.1 255.5 196.2 257.8C196.3 260.1 195.3 262.6 194.5 266.0C193.7 269.4 192.6 274.0 191.5 278.0C190.4 282.0 189.2 286.3 188.0 290.0C186.8 293.7 185.4 297.1 184.0 300.0C182.6 302.9 181.1 305.2 179.6 307.2C178.1 309.2 176.7 311.0 174.9 311.9C173.2 312.8 171.6 313.2 169.1 312.5C166.6 311.8 162.6 309.5 159.7 307.8C156.8 306.1 153.6 304.4 151.5 302.5C149.4 300.6 148.1 298.4 146.9 296.7C145.7 294.9 145.3 293.4 144.5 292.0C143.7 290.6 143.0 289.7 142.2 288.3C141.4 286.9 140.7 285.2 139.9 283.7C139.1 282.2 138.4 280.6 137.6 279.1C136.8 277.6 135.8 276.2 135.3 274.5C134.8 272.8 134.6 270.3 134.8 268.7C135.0 267.1 135.7 265.6 136.5 264.7C137.3 263.8 138.6 263.0 139.9 263.0C141.2 263.0 143.2 263.8 144.5 264.7C145.8 265.6 146.9 267.3 148.0 268.7C149.1 270.1 149.8 271.9 150.9 273.3C152.1 274.8 153.6 276.6 154.9 277.4C156.2 278.2 157.7 278.6 158.9 277.9C160.2 277.2 161.7 275.4 162.4 273.3C163.1 271.2 163.2 267.8 162.9 265.3C162.6 262.8 161.6 260.5 160.6 258.4C159.6 256.3 158.3 254.3 157.2 252.6C156.0 250.9 154.4 249.3 153.7 248.0C153.0 246.7 152.9 245.9 153.2 244.6Z" fill="none" stroke="#e43c32" stroke-width="0.85"/>
<path d="M165.2 249.2C165.3 248.5 165.4 248.3 166.4 248.0C167.4 247.7 169.6 247.2 171.0 247.5C172.4 247.8 173.4 249.0 175.0 249.8C176.6 250.7 178.8 252.0 180.7 252.6C182.6 253.2 184.7 253.3 186.4 253.2C188.1 253.1 189.7 252.2 191.0 252.1C192.3 252.0 194.1 250.9 194.5 252.6C194.9 254.2 194.1 258.4 193.5 262.0C192.9 265.6 191.9 270.2 191.0 274.0C190.1 277.8 189.2 281.3 188.0 285.0C186.8 288.7 185.6 292.5 184.0 296.0C182.4 299.5 180.1 303.6 178.7 306.0C177.2 308.4 176.6 309.8 175.3 310.4C174.0 310.9 172.6 310.0 170.7 309.3C168.8 308.6 165.9 307.5 163.8 306.4C161.7 305.3 159.7 304.2 158.0 302.9C156.3 301.5 154.6 299.8 153.4 298.3C152.2 296.8 151.4 295.4 151.1 293.7C150.8 292.0 150.9 289.5 151.7 288.0C152.5 286.5 154.1 285.5 155.7 284.5C157.3 283.5 159.6 283.1 161.5 282.2C163.4 281.2 165.9 280.5 167.2 278.8C168.4 277.1 168.8 274.2 169.0 271.9C169.2 269.6 168.7 267.3 168.4 265.0C168.1 262.7 167.5 260.2 167.0 258.0C166.5 255.8 165.8 253.5 165.5 252.0C165.2 250.5 165.0 249.9 165.2 249.2Z" fill="none" stroke="#e43c32" stroke-width="0.85"/>
<path d="M177.0 262.0C176.5 264.0 176.2 268.1 175.9 270.7C175.6 273.3 176.2 275.7 175.3 277.6C174.4 279.5 172.6 280.7 170.7 282.2C168.8 283.7 165.6 285.3 163.8 286.8C162.0 288.3 160.5 289.9 159.8 291.4C159.1 292.8 159.4 294.4 159.8 295.5C160.2 296.6 161.2 297.4 162.1 298.3C163.0 299.2 163.7 299.7 165.0 300.6C166.3 301.5 168.1 302.7 170.0 303.5C171.9 304.3 174.8 305.3 176.4 305.2C178.1 305.1 178.7 304.3 179.9 302.9C181.1 301.5 182.4 299.3 183.5 297.0C184.6 294.7 185.6 291.8 186.5 289.0C187.4 286.2 188.2 283.2 189.0 280.0C189.8 276.8 190.5 273.0 191.0 270.0C191.5 267.0 192.3 264.1 192.0 262.0C191.7 259.9 190.5 258.3 189.0 257.5C187.5 256.7 184.7 256.8 183.0 257.0C181.3 257.2 180.0 257.7 179.0 258.5C178.0 259.3 177.5 260.0 177.0 262.0Z" fill="none" stroke="#e43c32" stroke-width="0.85"/>
<path d="M174.7 285.7C173.7 287.4 172.7 287.8 172.4 289.1C172.1 290.4 172.3 292.4 173.0 293.7C173.7 294.9 175.2 296.4 176.4 296.6C177.6 296.8 178.9 295.8 179.9 294.9C180.9 294.0 181.3 293.2 182.2 291.4C183.0 289.6 184.1 286.6 185.0 284.0C185.9 281.4 186.8 278.7 187.5 276.0C188.2 273.3 189.1 270.3 189.5 268.0C189.9 265.7 190.3 263.3 190.0 262.0C189.7 260.7 188.4 259.8 187.5 260.0C186.6 260.2 185.5 261.3 184.5 263.0C183.5 264.7 182.5 267.3 181.5 270.0C180.5 272.7 179.6 276.4 178.5 279.0C177.4 281.6 175.7 284.0 174.7 285.7Z" fill="none" stroke="#e43c32" stroke-width="0.85"/>
<path d="M107.4 332.0C107.6 330.4 108.5 325.8 108.5 322.6C108.5 319.4 107.4 315.5 107.4 313.0C107.4 310.5 107.7 308.9 108.5 307.4C109.3 305.9 110.8 304.7 112.0 304.0C113.2 303.3 114.4 303.2 115.7 303.1C117.0 303.0 118.1 302.6 120.0 303.1C121.9 303.6 125.0 304.8 127.0 306.0C128.9 307.2 130.5 308.9 131.7 310.1C132.9 311.4 133.8 311.9 134.3 313.5C134.8 315.1 134.7 316.9 134.6 320.0C134.5 323.1 133.9 330.0 133.8 332.0" fill="none" stroke="#e43c32" stroke-width="0.85"/>
<ellipse cx="154.3" cy="263.6" rx="2.9" ry="5.2" transform="rotate(20 154.3 263.6)" fill="none" stroke="#e43c32" stroke-width="0.85"/>
<ellipse cx="142.2" cy="270.8" rx="2.1" ry="4" transform="rotate(10 142.2 270.8)" fill="none" stroke="#e43c32" stroke-width="0.85"/>
<ellipse cx="177.8" cy="264.8" rx="2.6" ry="7.2" transform="rotate(12 177.8 264.8)" fill="none" stroke="#e43c32" stroke-width="0.85"/>
<ellipse cx="184.5" cy="268.5" rx="2.2" ry="6.5" transform="rotate(22 184.5 268.5)" fill="none" stroke="#e43c32" stroke-width="0.85"/>
<path d="M195.0 257.0C194.7 258.3 194.1 262.1 193.7 264.7C193.3 267.2 192.9 269.8 192.5 272.3C192.1 274.9 191.7 277.4 191.3 280.0C190.8 282.6 190.4 285.1 189.9 287.7C189.3 290.2 188.7 292.8 187.9 295.3C187.1 297.9 185.7 301.7 185.3 303.0" fill="none" stroke="#e43c32" stroke-width="0.6"/>
<path d="M194.0 258.4C193.7 259.6 193.0 263.3 192.5 265.8C192.1 268.2 191.6 270.7 191.1 273.1C190.6 275.6 190.1 278.0 189.5 280.5C189.0 283.0 188.4 285.4 187.8 287.9C187.2 290.3 186.6 292.8 185.9 295.2C185.1 297.7 183.8 301.4 183.4 302.6" fill="none" stroke="#e43c32" stroke-width="0.6"/>
<path d="M192.9 259.8C192.6 261.0 191.8 264.5 191.3 266.9C190.7 269.2 190.2 271.6 189.6 273.9C189.0 276.3 188.4 278.6 187.8 281.0C187.1 283.4 186.4 285.7 185.8 288.1C185.1 290.4 184.5 292.8 183.8 295.1C183.1 297.5 181.9 301.0 181.5 302.2" fill="none" stroke="#e43c32" stroke-width="0.6"/>
<path d="M191.7 261.2C191.4 262.3 190.5 265.7 189.9 268.0C189.3 270.2 188.7 272.5 188.0 274.7C187.3 277.0 186.6 279.2 185.9 281.5C185.2 283.8 184.4 286.0 183.7 288.3C183.0 290.5 182.5 292.8 181.8 295.0C181.1 297.3 180.0 300.7 179.7 301.8" fill="none" stroke="#e43c32" stroke-width="0.6"/>
<path d="M190.5 262.6C190.2 263.7 189.1 266.9 188.4 269.1C187.7 271.2 187.1 273.4 186.3 275.5C185.6 277.7 184.8 279.8 184.0 282.0C183.2 284.2 182.3 286.3 181.6 288.5C180.9 290.6 180.4 292.8 179.8 294.9C179.1 297.1 178.1 300.3 177.8 301.4" fill="none" stroke="#e43c32" stroke-width="0.6"/>
<path d="M189.1 264.0C188.8 265.0 187.6 268.1 186.9 270.2C186.1 272.2 185.4 274.3 184.6 276.3C183.8 278.4 183.0 280.4 182.1 282.5C181.3 284.6 180.2 286.6 179.5 288.7C178.7 290.7 178.3 292.8 177.7 294.8C177.1 296.9 176.2 300.0 175.9 301.0" fill="none" stroke="#e43c32" stroke-width="0.6"/>
<path d="M187.6 265.4C187.2 266.4 186.0 269.3 185.2 271.3C184.4 273.2 183.6 275.2 182.8 277.1C181.9 279.1 181.0 281.0 180.1 283.0C179.2 285.0 178.1 286.9 177.3 288.9C176.6 290.8 176.2 292.8 175.7 294.7C175.1 296.7 174.3 299.6 174.0 300.6" fill="none" stroke="#e43c32" stroke-width="0.6"/>
<path d="M196.9 260.5L195.2 270.5L193.2 282.5" stroke="#e03020" stroke-width="3" fill="none"/>
<text transform="translate(136.8,237.4) rotate(-21)" font-size="7" style="fill:#e04030;stroke:#fff;stroke-width:1.6px;paint-order:stroke">10m</text>
<text transform="translate(164.8,300.2) rotate(30)" font-size="6" style="fill:#e43c32;stroke:#fff;stroke-width:1.2px;paint-order:stroke">50m</text>
<text transform="translate(202.5,266.5) rotate(-78)" font-size="5.5" style="fill:#e43c32">10m</text>
<text transform="translate(176.5,285.5) rotate(-65)" font-size="5" style="fill:#e43c32">40m</text>
<path d="M221.2 131.0C220.6 131.9 218.8 134.7 217.6 136.7C216.4 138.7 215.0 140.8 213.8 143.0C212.6 145.2 211.5 147.7 210.5 150.0C209.5 152.3 208.6 154.5 207.8 157.0C207.0 159.5 206.2 162.3 205.5 165.0C204.8 167.7 204.4 170.2 203.9 173.0C203.4 175.8 203.1 178.8 202.7 182.0C202.3 185.2 201.7 187.4 201.3 192.0C200.9 196.6 200.4 203.8 200.1 209.7C199.8 215.6 199.6 221.7 199.2 227.6C198.8 233.5 198.2 240.4 197.7 245.0C197.2 249.6 196.7 251.4 196.2 255.0C195.7 258.6 195.1 262.6 194.5 266.4C193.9 270.2 193.5 274.0 192.8 277.9C192.1 281.8 191.4 286.3 190.5 290.0C189.6 293.7 188.6 296.8 187.5 300.0C186.4 303.2 185.2 306.0 184.0 309.0C182.8 312.0 181.3 315.2 180.0 318.0C178.7 320.8 177.0 323.8 176.0 326.0C175.0 328.2 174.3 330.2 174.0 331.0" fill="none" stroke="#111" stroke-width="1.05"/>
</g>
<path d="M41.5 132.3Q134.6 134.4 227.6 132.0L233.4 328.7Q135.1 331.2 36.8 328.8Z" fill="none" stroke="#111" stroke-width="1.5"/>
<path d="M41.5 132.3v-2.6M36.8 328.8v2.6M60.1 132.7v-2.6M56.5 329.2v2.6M78.7 133.0v-4.6M76.1 329.6v4.6M97.4 133.2v-2.6M95.8 329.8v2.6M116.0 133.3v-2.6M115.4 329.9v2.6M134.6 133.3v-2.6M135.1 330.0v2.6M153.2 133.2v-4.6M154.8 329.9v4.6M171.8 133.0v-2.6M174.4 329.8v2.6M190.4 132.8v-2.6M194.1 329.5v2.6M209.0 132.4v-2.6M213.7 329.2v2.6M227.6 132.0v-4.6M233.4 328.7v4.6M41.5 132.3h-4.6M227.6 132.0h4.6M41.2 144.6h-2.6M228.0 144.3h2.6M40.9 156.9h-2.6M228.3 156.6h2.6M40.6 169.1h-2.6M228.7 168.9h2.6M40.3 181.4h-4.6M229.1 181.2h4.6M40.0 193.7h-2.6M229.4 193.5h2.6M39.7 206.0h-2.6M229.8 205.8h2.6M39.4 218.3h-2.6M230.1 218.1h2.6M39.1 230.6h-4.6M230.5 230.3h4.6M38.9 242.8h-2.6M230.9 242.6h2.6M38.6 255.1h-2.6M231.2 254.9h2.6M38.3 267.4h-2.6M231.6 267.2h2.6M38.0 279.7h-4.6M231.9 279.5h4.6M37.7 292.0h-2.6M232.3 291.8h2.6M37.4 304.2h-2.6M232.7 304.1h2.6M37.1 316.5h-2.6M233.0 316.4h2.6M36.8 328.8h-4.6M233.4 328.7h4.6" fill="none" stroke="#111" stroke-width="0.9"/>
<text x="31.9" y="136.6" font-size="12.8" text-anchor="end" textLength="27.6" lengthAdjust="spacingAndGlyphs">41°N</text>
<text x="31.2" y="185.6" font-size="12.8" text-anchor="end" textLength="27.6" lengthAdjust="spacingAndGlyphs">40°N</text>
<text x="30.5" y="234.8" font-size="12.8" text-anchor="end" textLength="27.6" lengthAdjust="spacingAndGlyphs">39°N</text>
<text x="29.8" y="284.0" font-size="12.8" text-anchor="end" textLength="27.6" lengthAdjust="spacingAndGlyphs">38°N</text>
<text x="29.1" y="333.0" font-size="12.8" text-anchor="end" textLength="27.6" lengthAdjust="spacingAndGlyphs">37°N</text>
<text x="76.2" y="347.8" font-size="12.8" text-anchor="middle" textLength="32.8" lengthAdjust="spacingAndGlyphs">141°E</text>
<text x="156.4" y="347.8" font-size="12.8" text-anchor="middle" textLength="32.8" lengthAdjust="spacingAndGlyphs">143°E</text>
<text x="233.6" y="347.8" font-size="12.8" text-anchor="middle" textLength="32.8" lengthAdjust="spacingAndGlyphs">145°E</text>
<path d="M190.3 311.7V307.5H212.4V311.7" fill="none" stroke="#222" stroke-width="1"/>
<text x="202.6" y="323.9" font-size="13" text-anchor="middle" textLength="35" lengthAdjust="spacingAndGlyphs">50 km</text>
<rect x="36.20" y="365.6" width="24.94" height="7.4" fill="#33305e"/>
<rect x="60.84" y="365.6" width="24.94" height="7.4" fill="#2e3aa0"/>
<rect x="85.48" y="365.6" width="24.94" height="7.4" fill="#2f55ae"/>
<rect x="110.11" y="365.6" width="24.94" height="7.4" fill="#2b6a8c"/>
<rect x="134.75" y="365.6" width="24.94" height="7.4" fill="#3c8a6a"/>
<rect x="159.39" y="365.6" width="24.94" height="7.4" fill="#46aa22"/>
<rect x="184.03" y="365.6" width="24.94" height="7.4" fill="#60c010"/>
<rect x="208.66" y="365.6" width="24.94" height="7.4" fill="#a8d838"/>
<path d="M36.20 365.6V378M85.48 365.6V378M134.75 365.6V378M184.03 365.6V378M233.30 365.6V378" stroke="#111" stroke-width="1"/>
<rect x="36.2" y="365.6" width="197.10" height="7.4" fill="none" stroke="#111" stroke-width="1.2"/>
<text x="36.10" y="389.8" font-size="10" text-anchor="middle">1</text>
<text x="85.60" y="389.8" font-size="10" text-anchor="middle">2</text>
<text x="135.60" y="389.8" font-size="10" text-anchor="middle">3</text>
<text x="185.00" y="389.8" font-size="10" text-anchor="middle">4</text>
<text x="235.90" y="389.8" font-size="10" text-anchor="middle">5</text>
<text x="43.6" y="404.5" font-size="10.5">Magnitude of repeating earthquakes (M<tspan font-size="7" dy="2">j</tspan><tspan dy="-2">)</tspan></text>
</g></svg></body></html>
